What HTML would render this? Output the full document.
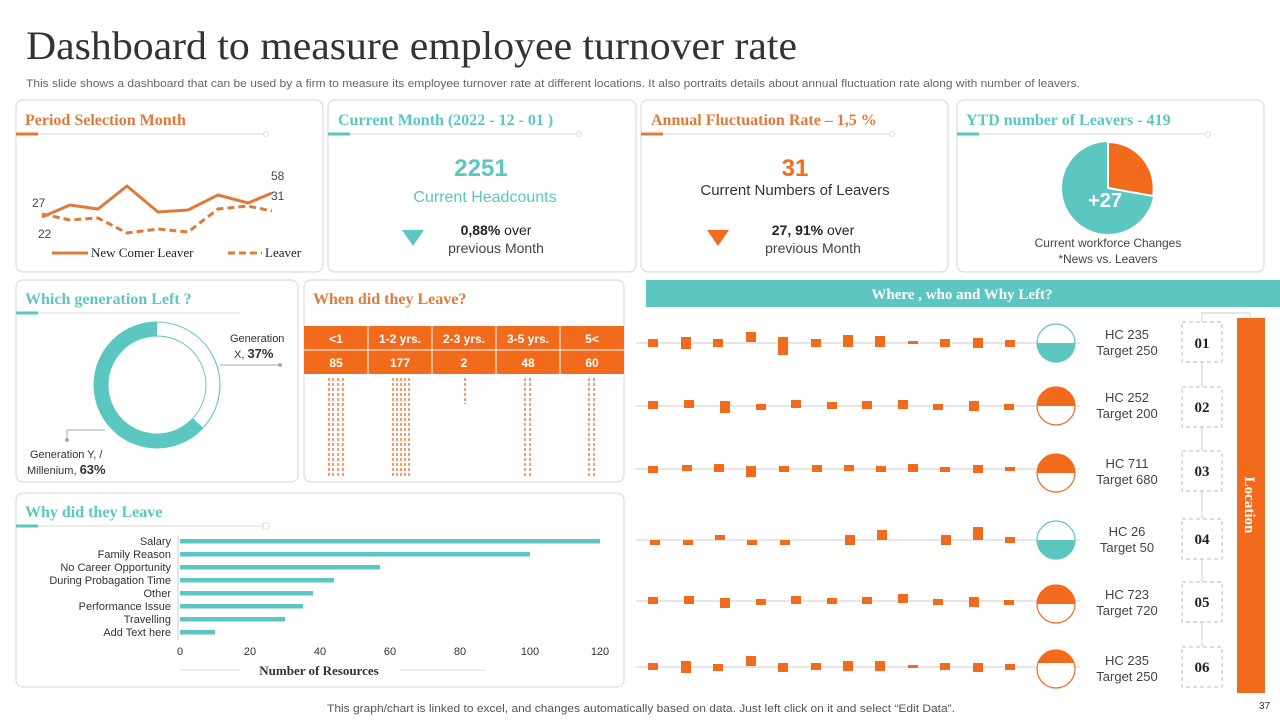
<!DOCTYPE html><html><head><meta charset="utf-8"><style>body{margin:0;background:#fff}svg{display:block}</style></head><body>
<svg width="1280" height="720" viewBox="0 0 1280 720" xmlns="http://www.w3.org/2000/svg" font-family="Liberation Sans, sans-serif">
<text x="26" y="59" font-family="Liberation Serif, serif" font-size="40" fill="#333" textLength="771" lengthAdjust="spacingAndGlyphs">Dashboard to measure employee turnover rate</text>
<text x="26" y="87" font-size="11" fill="#666" textLength="1054" lengthAdjust="spacingAndGlyphs">This slide shows a dashboard that can be used by a firm to measure its employee turnover rate at different locations. It also portraits details about annual fluctuation rate along with number of leavers.</text>
<g fill="#fff" stroke="#ddd" stroke-width="1.2">
<rect x="16" y="100" width="307" height="172" rx="7"/><rect x="328" y="100" width="308" height="172" rx="7"/>
<rect x="641" y="100" width="307" height="172" rx="7"/><rect x="957" y="100" width="307" height="172" rx="7"/>
<rect x="16" y="280" width="282" height="202" rx="7"/><rect x="304" y="280" width="320" height="202" rx="7"/>
<rect x="16" y="493" width="608" height="194" rx="7"/></g>
<g font-family="Liberation Serif, serif" font-size="16" font-weight="bold">
<text x="25" y="125" fill="#e07a3a">Period Selection Month</text>
<text x="338" y="125" fill="#5cc6c0">Current Month (2022 - 12 - 01 )</text>
<text x="651" y="125" fill="#e07a3a">Annual Fluctuation Rate – 1,5 %</text>
<text x="966" y="125" fill="#5cc6c0">YTD number of Leavers - 419</text>
<text x="25" y="304" fill="#5cc6c0">Which generation Left ?</text>
<text x="313" y="304" fill="#e07a3a">When did they Leave?</text>
<text x="25" y="517" fill="#5cc6c0">Why did they Leave</text></g>
<g stroke="#ddd" fill="#fff"><line x1="16" y1="134" x2="266" y2="134"/><circle cx="266" cy="134" r="2.5"/>
<line x1="328" y1="134" x2="579" y2="134"/><circle cx="579" cy="134" r="2.5"/>
<line x1="641" y1="134" x2="892" y2="134"/><circle cx="892" cy="134" r="2.5"/>
<line x1="957" y1="134" x2="1208" y2="134"/><circle cx="1208" cy="134" r="2.5"/>
<line x1="16" y1="313" x2="240" y2="313"/><line x1="16" y1="526" x2="266" y2="526"/><rect x="263" y="523" width="6" height="6"/></g>
<g stroke-width="3"><line x1="16" y1="134" x2="38" y2="134" stroke="#e07a3a"/><line x1="328" y1="134" x2="350" y2="134" stroke="#5cc6c0"/><line x1="641" y1="134" x2="663" y2="134" stroke="#e07a3a"/><line x1="957" y1="134" x2="979" y2="134" stroke="#5cc6c0"/><line x1="16" y1="313" x2="38" y2="313" stroke="#5cc6c0"/><line x1="16" y1="526" x2="38" y2="526" stroke="#5cc6c0"/></g>
<polyline points="42,217 70,205 98,209 127,186 158,212 188,210 218,195 248,203 272,193" fill="none" stroke="#e07a3a" stroke-width="3"/>
<polyline points="42,214 70,220 98,218 127,233 158,229 188,232 218,209 248,206 272,211" fill="none" stroke="#e07a3a" stroke-width="3" stroke-dasharray="7,4"/>
<g font-size="12" fill="#444"><text x="32" y="207">27</text><text x="38" y="238">22</text><text x="271" y="180">58</text><text x="271" y="200">31</text></g>
<line x1="52" y1="253" x2="88" y2="253" stroke="#e07a3a" stroke-width="3"/><line x1="228" y1="253" x2="262" y2="253" stroke="#e07a3a" stroke-width="3" stroke-dasharray="7,4"/>
<g font-family="Liberation Serif, serif" font-size="13" fill="#222"><text x="91" y="257">New Comer  Leaver</text><text x="265" y="257">Leaver</text></g>
<g text-anchor="middle">
<text x="481" y="176" font-size="24" font-weight="bold" fill="#5cc6c0">2251</text>
<text x="485" y="202" font-size="16" fill="#5cc6c0">Current Headcounts</text>
<text x="496" y="235" font-size="14" fill="#222"><tspan font-weight="bold">0,88%</tspan> over</text>
<text x="496" y="253" font-size="14" fill="#444">previous Month</text>
<text x="795" y="176" font-size="24" font-weight="bold" fill="#f26b1d">31</text>
<text x="795" y="195" font-size="15" fill="#333">Current Numbers of Leavers</text>
<text x="813" y="235" font-size="14" fill="#222"><tspan font-weight="bold">27, 91%</tspan> over</text>
<text x="813" y="253" font-size="14" fill="#444">previous Month</text>
<text x="1108" y="247" font-size="12" fill="#444">Current  workforce Changes</text>
<text x="1108" y="263" font-size="12" fill="#444">*News vs. Leavers</text></g>
<polygon points="402,230 424,230 413,246" fill="#5cc6c0"/><polygon points="707,230 729,230 718,246" fill="#f26b1d"/>
<circle cx="1108" cy="188" r="46" fill="#5cc6c0"/>
<path d="M1108,188 L1108,142 A46,46 0 0 1 1153,196 Z" fill="#f26b1d" stroke="#fff" stroke-width="2"/>
<text x="1105" y="207" font-size="20" font-weight="bold" fill="#fff" text-anchor="middle">+27</text>
<circle cx="157" cy="385" r="56" fill="none" stroke="#5cc6c0" stroke-width="15"/>
<path d="M157,329 A56,56 0 0 1 198,423" fill="none" stroke="#fff" stroke-width="13"/>
<g font-size="11" fill="#333"><text x="230" y="342">Generation</text><text x="234" y="358">X, <tspan font-weight="bold" font-size="13">37%</tspan></text>
<text x="30" y="458">Generation Y, /</text><text x="27" y="474">Millenium, <tspan font-weight="bold" font-size="13">63%</tspan></text></g>
<polyline points="220,365 235,365 280,365" stroke="#aaa" fill="none"/><circle cx="280" cy="365" r="2" fill="#aaa"/>
<polyline points="105,430 67,430 67,440" stroke="#aaa" fill="none"/><circle cx="67" cy="440" r="2" fill="#aaa"/>
<rect x="304" y="326" width="320" height="48" fill="#f26b1d"/>
<line x1="304" y1="350" x2="624" y2="350" stroke="#fff"/>
<g stroke="#fff"><line x1="368" y1="326" x2="368" y2="374"/><line x1="432" y1="326" x2="432" y2="374"/><line x1="496" y1="326" x2="496" y2="374"/><line x1="560" y1="326" x2="560" y2="374"/></g>
<g fill="#fff" font-size="12" font-weight="bold" text-anchor="middle">
<text x="336" y="343">&lt;1</text><text x="400" y="343">1-2 yrs.</text><text x="464" y="343">2-3 yrs.</text><text x="528" y="343">3-5 yrs.</text><text x="592" y="343">5&lt;</text>
<text x="336" y="367">85</text><text x="400" y="367">177</text><text x="464" y="367">2</text><text x="528" y="367">48</text><text x="592" y="367">60</text></g>
<g stroke="#f26b1d" stroke-width="1.3" stroke-dasharray="3,2">
<line x1="329" y1="378" x2="329" y2="478"/><line x1="333" y1="378" x2="333" y2="478"/><line x1="338" y1="378" x2="338" y2="478"/><line x1="343" y1="378" x2="343" y2="478"/>
<line x1="393" y1="378" x2="393" y2="478"/><line x1="397" y1="378" x2="397" y2="478"/><line x1="401" y1="378" x2="401" y2="478"/><line x1="405" y1="378" x2="405" y2="478"/><line x1="409" y1="378" x2="409" y2="478"/>
<line x1="465" y1="378" x2="465" y2="404"/>
<line x1="525" y1="378" x2="525" y2="478"/><line x1="530" y1="378" x2="530" y2="478"/>
<line x1="589" y1="378" x2="589" y2="478"/><line x1="594" y1="378" x2="594" y2="478"/></g>
<g font-size="11" fill="#333" text-anchor="end">
<text x="171" y="545">Salary</text><text x="171" y="558">Family Reason</text><text x="171" y="571">No Career Opportunity</text><text x="171" y="584">During Probagation Time</text><text x="171" y="597">Other</text><text x="171" y="610">Performance Issue</text><text x="171" y="623">Travelling</text><text x="171" y="636">Add Text here</text></g>
<line x1="178" y1="536" x2="178" y2="640" stroke="#ccc"/>
<g fill="#5cc6c0"><rect x="180" y="539" width="420" height="4.5"/><rect x="180" y="552" width="350" height="4.5"/><rect x="180" y="565" width="200" height="4.5"/><rect x="180" y="578" width="154" height="4.5"/><rect x="180" y="591" width="133" height="4.5"/><rect x="180" y="604" width="123" height="4.5"/><rect x="180" y="617" width="105" height="4.5"/><rect x="180" y="630" width="35" height="4.5"/></g>
<g font-size="11" fill="#333" text-anchor="middle"><text x="180" y="655">0</text><text x="250" y="655">20</text><text x="320" y="655">40</text><text x="390" y="655">60</text><text x="460" y="655">80</text><text x="530" y="655">100</text><text x="600" y="655">120</text></g>
<line x1="180" y1="670" x2="486" y2="670" stroke="#ddd"/>
<rect x="240" y="662" width="160" height="16" fill="#fff"/>
<text x="319" y="675" font-family="Liberation Serif, serif" font-size="13" font-weight="bold" fill="#333" text-anchor="middle">Number of Resources</text>
<rect x="646" y="280" width="634" height="27" fill="#5cc6c0"/>
<text x="962" y="299" font-family="Liberation Serif, serif" font-size="15" font-weight="bold" fill="#fff" text-anchor="middle">Where , who and Why Left?</text>
<rect x="1237" y="318" width="28" height="375" fill="#f26b1d"/>
<text transform="translate(1245,505) rotate(90)" font-family="Liberation Serif, serif" font-size="15" font-weight="bold" fill="#fff" text-anchor="middle">Location</text>
<polyline points="1202,322 1202,313 1250,313 1250,318" fill="none" stroke="#ccc"/>
<line x1="1202" y1="322" x2="1202" y2="680" stroke="#ccc"/>
<g font-size="13" fill="#444" text-anchor="middle">
<text x="1127" y="339">HC 235</text><text x="1127" y="355">Target  250</text>
<text x="1127" y="402">HC 252</text><text x="1127" y="418">Target  200</text>
<text x="1127" y="468">HC 711</text><text x="1127" y="484">Target  680</text>
<text x="1127" y="536">HC 26</text><text x="1127" y="552">Target  50</text>
<text x="1127" y="599">HC 723</text><text x="1127" y="615">Target  720</text>
<text x="1127" y="665">HC 235</text><text x="1127" y="681">Target  250</text></g>
<g fill="#fff" stroke="#bbb" stroke-dasharray="4,3">
<rect x="1182" y="322" width="40" height="40"/><rect x="1182" y="387" width="40" height="40"/><rect x="1182" y="451" width="40" height="40"/><rect x="1182" y="519" width="40" height="40"/><rect x="1182" y="582" width="40" height="40"/><rect x="1182" y="647" width="40" height="40"/></g>
<g font-family="Liberation Serif, serif" font-size="15" font-weight="bold" fill="#222" text-anchor="middle">
<text x="1202" y="348">01</text><text x="1202" y="412">02</text><text x="1202" y="476">03</text><text x="1202" y="544">04</text><text x="1202" y="607">05</text><text x="1202" y="672">06</text></g>
<text x="327" y="712" font-size="11" fill="#555" textLength="628" lengthAdjust="spacingAndGlyphs">This graph/chart is linked to excel,  and changes automatically based on data. Just left click on it and select “Edit Data”.</text>
<text x="1259" y="709" font-size="10" fill="#333">37</text>
<g stroke="#ccc"><line x1="636" y1="343" x2="1080" y2="343"/><line x1="636" y1="406" x2="1080" y2="406"/><line x1="636" y1="469" x2="1080" y2="469"/><line x1="636" y1="540" x2="1080" y2="540"/><line x1="636" y1="601" x2="1080" y2="601"/><line x1="636" y1="667" x2="1080" y2="667"/></g>
<g fill="#f26b1d">
<rect x="648" y="339" width="10" height="8"/><rect x="681" y="337" width="10" height="12"/><rect x="713" y="339" width="10" height="8"/><rect x="746" y="332" width="10" height="10"/><rect x="778" y="337" width="10" height="18"/><rect x="811" y="339" width="10" height="8"/><rect x="843" y="335" width="10" height="12"/><rect x="875" y="336" width="10" height="11"/><rect x="908" y="341" width="10" height="3"/><rect x="940" y="339" width="10" height="8"/><rect x="973" y="338" width="10" height="10"/><rect x="1005" y="340" width="10" height="7"/>
<rect x="648" y="401" width="10" height="8"/><rect x="684" y="400" width="10" height="8"/><rect x="720" y="401" width="10" height="12"/><rect x="756" y="404" width="10" height="6"/><rect x="791" y="400" width="10" height="8"/><rect x="827" y="402" width="10" height="7"/><rect x="862" y="401" width="10" height="8"/><rect x="898" y="400" width="10" height="9"/><rect x="933" y="404" width="10" height="6"/><rect x="969" y="401" width="10" height="10"/><rect x="1004" y="404" width="10" height="6"/>
<rect x="648" y="466" width="10" height="7"/><rect x="682" y="465" width="10" height="6"/><rect x="714" y="464" width="10" height="8"/><rect x="746" y="466" width="10" height="11"/><rect x="779" y="466" width="10" height="6"/><rect x="812" y="465" width="10" height="7"/><rect x="844" y="465" width="10" height="6"/><rect x="876" y="466" width="10" height="6"/><rect x="908" y="464" width="10" height="8"/><rect x="940" y="467" width="10" height="5"/><rect x="973" y="465" width="10" height="8"/><rect x="1005" y="467" width="10" height="4"/>
<rect x="650" y="540" width="10" height="5"/><rect x="683" y="540" width="10" height="5"/><rect x="715" y="535" width="10" height="5"/><rect x="747" y="540" width="10" height="5"/><rect x="780" y="540" width="10" height="5"/><rect x="845" y="535" width="10" height="10"/><rect x="877" y="530" width="10" height="10"/><rect x="941" y="535" width="10" height="10"/><rect x="973" y="527" width="10" height="13"/><rect x="1005" y="537" width="10" height="6"/>
<rect x="648" y="597" width="10" height="7"/><rect x="684" y="596" width="10" height="8"/><rect x="720" y="598" width="10" height="10"/><rect x="756" y="599" width="10" height="6"/><rect x="791" y="596" width="10" height="8"/><rect x="827" y="598" width="10" height="6"/><rect x="862" y="597" width="10" height="7"/><rect x="898" y="594" width="10" height="9"/><rect x="933" y="599" width="10" height="6"/><rect x="969" y="597" width="10" height="10"/><rect x="1004" y="600" width="10" height="5"/>
<rect x="648" y="663" width="10" height="7"/><rect x="681" y="661" width="10" height="12"/><rect x="713" y="664" width="10" height="7"/><rect x="746" y="656" width="10" height="10"/><rect x="778" y="663" width="10" height="9"/><rect x="811" y="663" width="10" height="7"/><rect x="843" y="661" width="10" height="10"/><rect x="875" y="661" width="10" height="10"/><rect x="908" y="665" width="10" height="3"/><rect x="940" y="663" width="10" height="7"/><rect x="973" y="663" width="10" height="9"/><rect x="1005" y="664" width="10" height="6"/></g>
<g stroke-width="1.2">
<circle cx="1056" cy="343" r="19" fill="#fff" stroke="#5cc6c0"/><path d="M1037,343 A19,19 0 0 0 1075,343 Z" fill="#5cc6c0"/>
<circle cx="1056" cy="406" r="19" fill="#fff" stroke="#f26b1d"/><path d="M1037,406 A19,19 0 0 1 1075,406 Z" fill="#f26b1d"/>
<circle cx="1056" cy="473" r="19" fill="#fff" stroke="#f26b1d"/><path d="M1037,473 A19,19 0 0 1 1075,473 Z" fill="#f26b1d"/>
<circle cx="1056" cy="540" r="19" fill="#fff" stroke="#5cc6c0"/><path d="M1037,540 A19,19 0 0 0 1075,540 Z" fill="#5cc6c0"/>
<circle cx="1056" cy="604" r="19" fill="#fff" stroke="#f26b1d"/><path d="M1037,604 A19,19 0 0 1 1075,604 Z" fill="#f26b1d"/>
<circle cx="1056" cy="669" r="19" fill="#fff" stroke="#f26b1d"/><path d="M1038,663 A19,19 0 0 1 1074,663 Z" fill="#f26b1d"/></g>
</svg></body></html>
